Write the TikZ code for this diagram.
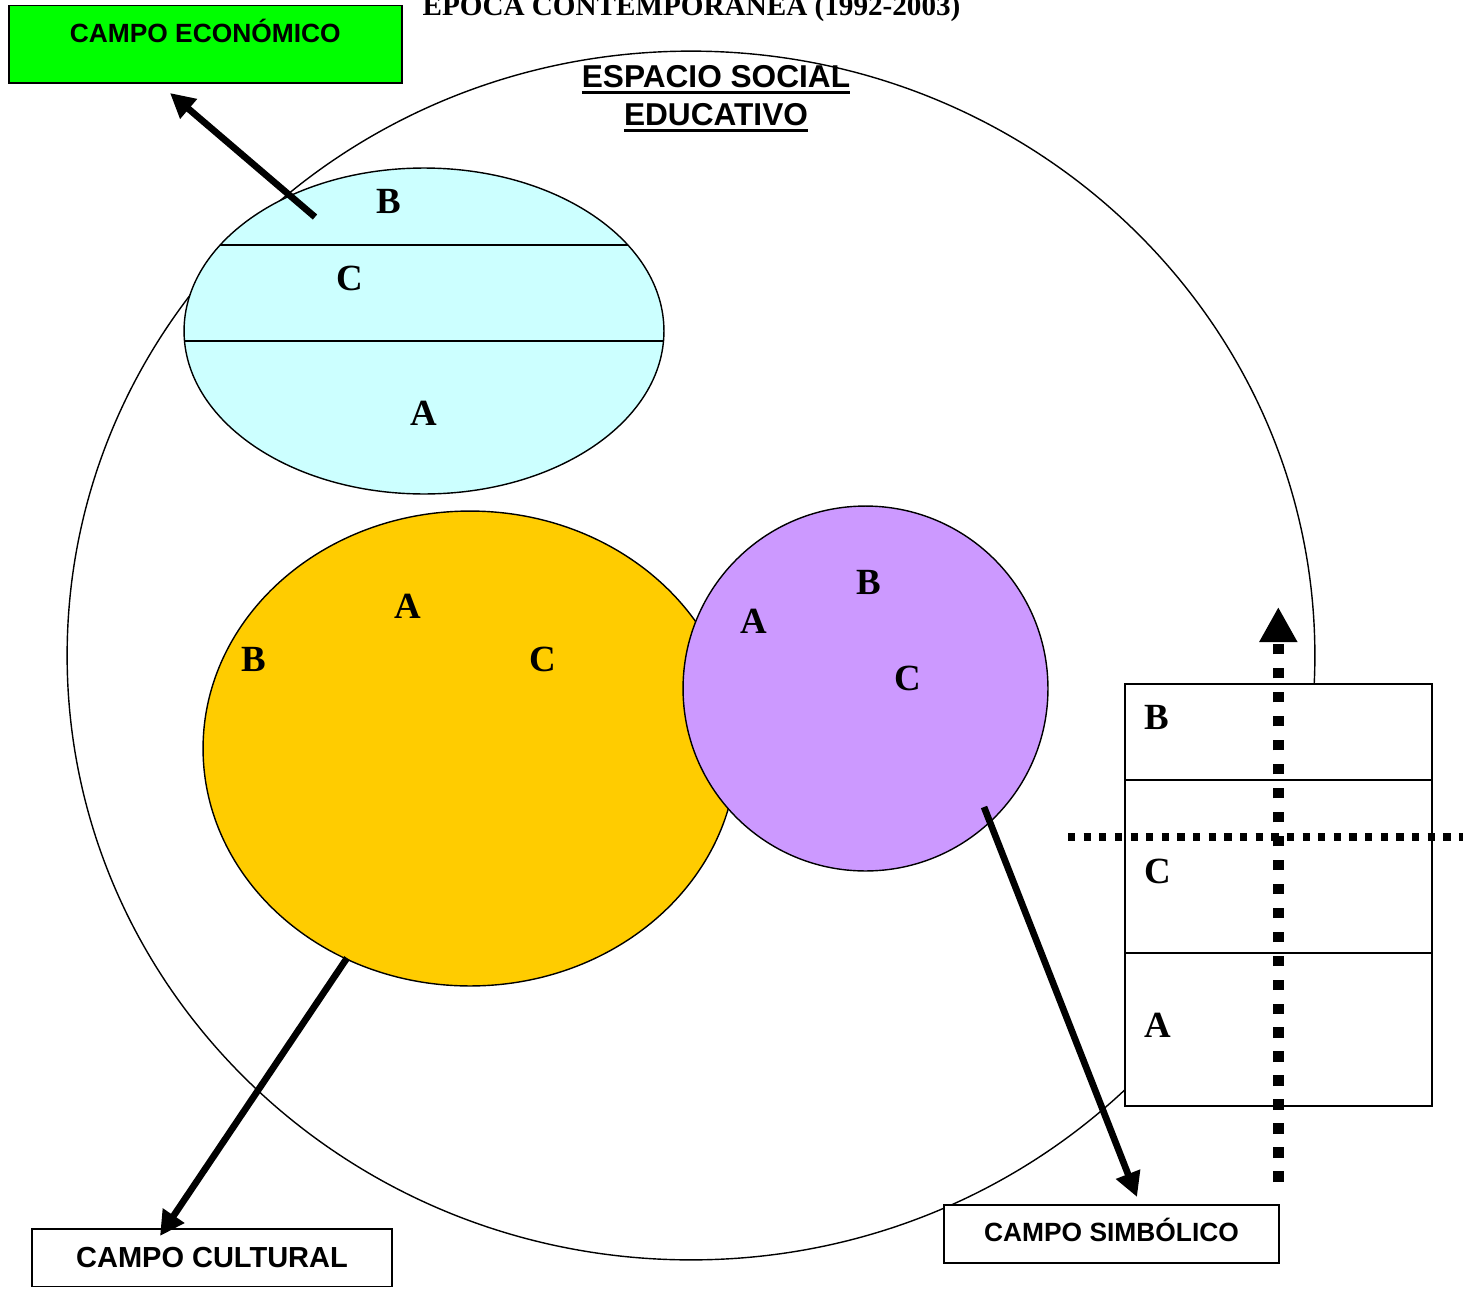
\documentclass[tikz,border=0pt]{standalone}
\usepackage{fontspec}
\setmainfont{Liberation Serif}
\newfontfamily\arial{Liberation Sans}
\usetikzlibrary{arrows.meta,shapes.geometric}
\definecolor{verde}{HTML}{00FF00}
\definecolor{celeste}{HTML}{CCFFFF}
\definecolor{amarillo}{HTML}{FFCC00}
\definecolor{lila}{HTML}{CC99FF}
\newcommand{\subr}[1]{\setbox0=\hbox{#1}\leavevmode\rlap{\rule[-4pt]{\wd0}{1.7pt}}\box0}

\begin{document}
\begin{tikzpicture}[x=0.02cm,y=-0.02cm,
  letra/.style={inner sep=0pt,font=\fontsize{21}{25}\selectfont\bfseries},
  campo/.style={draw,line width=0.9pt,fill=white,inner sep=0pt,font=\arial\fontsize{15}{18}\selectfont\bfseries},
  elip/.style={ellipse,draw,line width=0.8pt,inner sep=0pt},
  flecha/.style={line width=3.8pt,-{Triangle[length=14pt,width=14pt]}}]
 \useasboundingbox (0,0) rectangle (1463,1288);
 \node[inner sep=0pt,anchor=base,font=\fontsize{16.6}{20}\selectfont\bfseries] (tit) at (691.5,15) {ÉPOCA CONTEMPORÁNEA (1992-2003)};
 % espacio social
 \node[elip,minimum width=24.96cm,minimum height=24.18cm] (esp) at (691,655.5) {};
 \node[inner sep=0pt,anchor=north,align=center,font=\arial\fontsize{18}{21.5}\selectfont\bfseries] (tesp) at (716,65) {\subr{ESPACIO SOCIAL}\\\subr{EDUCATIVO}};
 % campo economico
 \node[elip,fill=celeste,minimum width=9.6cm,minimum height=6.52cm] (eco) at (424,331) {};
 \draw[line width=0.8pt] (220,245) -- (628,245) (184.5,341) -- (663.5,341);
 \node[letra] (eB) at (389,201) {B};
 \node[letra] (eC) at (350,278) {C};
 \node[letra] (eA) at (424,413) {A};
 % campo cultural
 \node[elip,fill=amarillo,minimum width=10.68cm,minimum height=9.5cm] (cul) at (470,748.5) {};
 \node[letra] (cA) at (408,606) {A};
 \node[letra] (cB) at (254,659) {B};
 \node[letra] (cC) at (543,659) {C};
 % campo simbolico
 \node[elip,fill=lila,minimum width=7.3cm,minimum height=7.3cm] (sim) at (865.5,688.5) {};
 \node[letra] (sB) at (869,582) {B};
 \node[letra] (sA) at (754,621) {A};
 \node[letra] (sC) at (908,678) {C};
 % tabla
 \draw[line width=0.9pt,fill=white] (1125,684) rectangle (1432,1106);
 \draw[line width=0.9pt] (1125,780) -- (1432,780) (1125,953) -- (1432,953);
 \node[letra] (tB) at (1157,717) {B};
 \node[letra] (tC) at (1158,871) {C};
 \node[letra] (tA) at (1158,1025) {A};
 % cuadros
 \node[campo,fill=verde,minimum width=7.86cm,text height=21pt,text depth=23pt,anchor=north west] (ceco) at (8,4.7) {CAMPO ECONÓMICO};
 \node[campo,minimum width=7.2cm,minimum height=1.15cm,font=\arial\fontsize{16.5}{19}\selectfont\bfseries] (ccul) at (212,1257.8) {CAMPO CULTURAL};
 \node[campo,minimum width=6.7cm,minimum height=1.16cm,text height=10.8pt,text depth=2.5pt] (csim) at (1111.5,1233.9) {CAMPO SIMBÓLICO};
 % flechas
 \coordinate (pe) at (315,217);
 \coordinate (fe) at (170,93);
 \coordinate (pc) at (347,958);
 \coordinate (fc) at (160,1236);
 \coordinate (ps) at (984,807);
 \coordinate (fs) at (1137,1197);
 \draw[flecha] (pe) -- (fe);
 \draw[flecha] (pc) -- (fc);
 \draw[flecha] (ps) -- (fs);
 \coordinate (v0) at (1278.3,1182);
 \coordinate (v1) at (1278.3,607);
 \draw[line width=6.4pt,dash pattern=on 6.05pt off 7.6pt,-{Triangle[length=20pt,width=20.4pt]}] (v0) -- (v1);
 \draw[line width=4.1pt,dash pattern=on 4.1pt off 4.8pt] (1068,837) -- (1463,837);
\end{tikzpicture}
\end{document}
